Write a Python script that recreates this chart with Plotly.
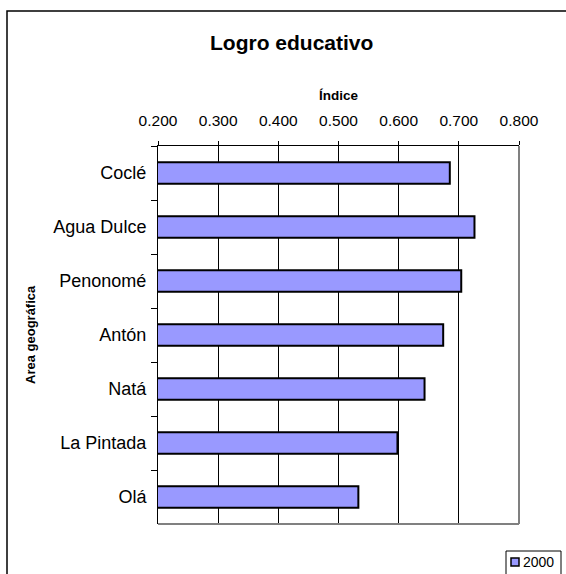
import plotly.graph_objects as go

# ---- data ----
categories = ["Coclé", "Agua Dulce", "Penonomé", "Antón", "Natá", "La Pintada", "Olá"]
values_2000 = [0.685, 0.726, 0.704, 0.674, 0.643, 0.598, 0.533]
series_name = "2000"
x_ticks = [0.2, 0.3, 0.4, 0.5, 0.6, 0.7, 0.8]
title_text = "Logro educativo"
x_title = "Índice"
y_title = "Area geográfica"

W, H = 566, 574
L, R, T, B = 158, 47, 146, 50
PW, PH = W - L - R, H - T - B

def px(x):
    return (x - L) / PW

def py(y):
    return (H - B - y) / PH

FONT = "Arial, Liberation Sans, sans-serif"
BAR_COLOR = "#9999FF"

fig = go.Figure()
fig.add_trace(go.Bar(
    y=categories, x=values_2000, orientation="h", name=series_name,
    width=0.4,
    marker=dict(color=BAR_COLOR, line=dict(color="black", width=2)),
    showlegend=False,
))

fig.update_layout(
    width=W, height=H,
    margin=dict(l=L, r=R, t=T, b=B),
    paper_bgcolor="white", plot_bgcolor="white",
    font=dict(family=FONT, color="black"),
    xaxis=dict(
        side="top", range=[0.2, 0.8], tickvals=x_ticks, tickformat=".3f",
        showgrid=True, gridcolor="black", gridwidth=1,
        showline=True, linecolor="black", linewidth=1,
        ticks="outside", ticklen=4, tickcolor="black",
        tickfont=dict(size=15.5, family=FONT), ticklabelstandoff=9,
        zeroline=False, fixedrange=True,
    ),
    yaxis=dict(
        autorange="reversed", type="category",
        showgrid=False, showline=True, linecolor="black", linewidth=1,
        ticks="outside", ticklen=6, tickcolor="black", tickson="boundaries",
        tickfont=dict(size=18, family=FONT), ticklabelstandoff=7,
        fixedrange=True,
    ),
    showlegend=False,
    shapes=[
        # plot area right & bottom border (gray)
        dict(type="line", xref="paper", yref="paper", x0=1, x1=1, y0=0, y1=1,
             line=dict(color="#808080", width=2), layer="above"),
        dict(type="line", xref="paper", yref="paper", x0=0, x1=1, y0=0, y1=0,
             line=dict(color="#808080", width=2), layer="above"),
        # outer chart frame
        dict(type="rect", xref="paper", yref="paper",
             x0=px(7), x1=px(W + 40), y0=py(11), y1=py(H + 40),
             line=dict(color="black", width=1.5), layer="above"),
        # legend box
        dict(type="rect", xref="paper", yref="paper",
             x0=px(506), x1=px(561), y0=py(551), y1=py(H + 5),
             line=dict(color="black", width=1), fillcolor="white", layer="above"),
        # legend key
        dict(type="rect", xref="paper", yref="paper",
             x0=px(511), x1=px(519), y0=py(558), y1=py(566),
             line=dict(color="black", width=1.5), fillcolor=BAR_COLOR, layer="above"),
    ],
    annotations=[
        dict(text=title_text, xref="paper", yref="paper", x=px(291), y=py(42),
             xanchor="center", yanchor="middle", showarrow=False,
             font=dict(size=21, family=FONT, color="black", weight="bold")),
        dict(text=x_title, xref="paper", yref="paper", x=0.5, y=py(96),
             xanchor="center", yanchor="middle", showarrow=False,
             font=dict(size=13.5, family=FONT, color="black", weight="bold")),
        dict(text=y_title, xref="paper", yref="paper", x=px(30), y=py(335),
             xanchor="center", yanchor="middle", showarrow=False, textangle=-90,
             font=dict(size=13, family=FONT, color="black", weight="bold")),
        dict(text=series_name, xref="paper", yref="paper", x=px(521), y=py(562),
             xanchor="left", yanchor="middle", showarrow=False,
             font=dict(size=14, family=FONT, color="black")),
    ],
)

fig.write_html("out.html", config={"displayModeBar": False},
               post_script="document.body.style.margin='0';document.body.style.padding='0';")
